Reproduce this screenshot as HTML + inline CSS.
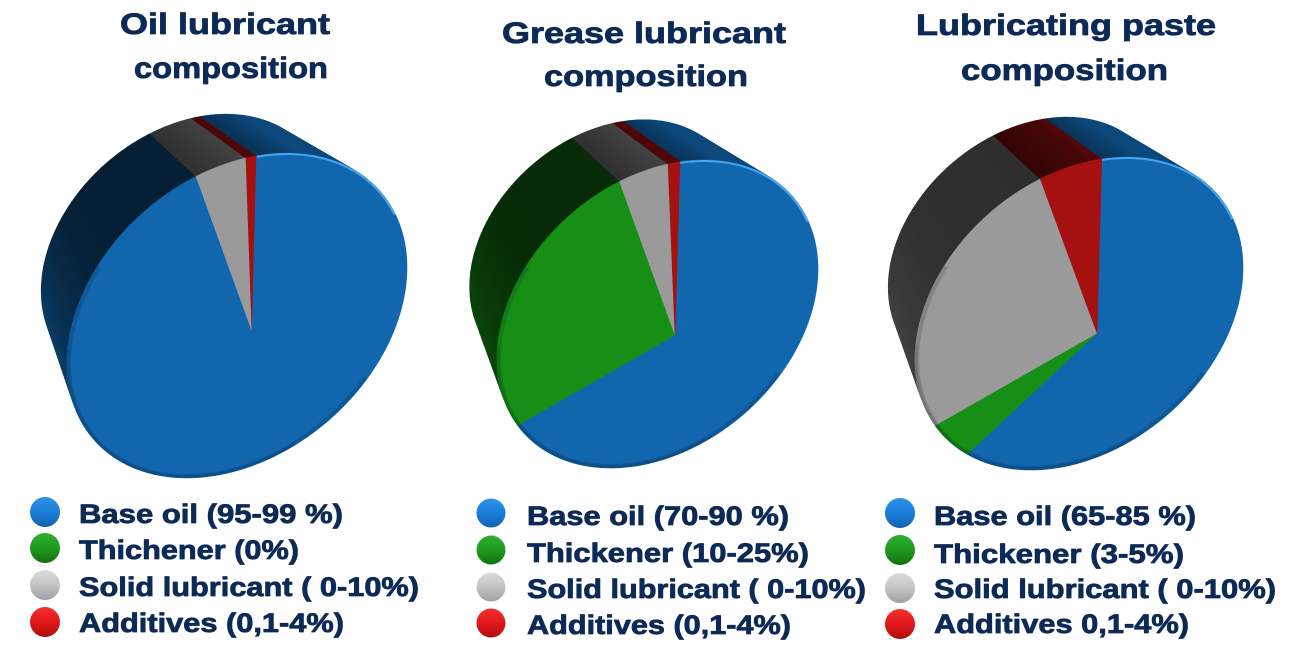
<!DOCTYPE html>
<html>
<head>
<meta charset="utf-8">
<style>
html,body{margin:0;padding:0;background:#ffffff;width:1305px;height:658px;overflow:hidden}
svg{display:block}
text{font-family:"Liberation Sans",Arial,sans-serif;font-weight:bold;fill:#0d2a56;stroke:#0d2a56;stroke-width:0.8px;stroke-linejoin:round}
</style>
</head>
<body>
<svg id="s" width="1305" height="658" viewBox="0 0 1305 658" xmlns="http://www.w3.org/2000/svg">
<defs id="defs">
  <linearGradient id="gb" x1="0" y1="0" x2="0" y2="1">
    <stop offset="0" stop-color="#2d92ea"/><stop offset="0.5" stop-color="#1b7fd9"/><stop offset="1" stop-color="#1361b0"/>
  </linearGradient>
  <linearGradient id="gg" x1="0" y1="0" x2="0" y2="1">
    <stop offset="0" stop-color="#2fb02f"/><stop offset="0.5" stop-color="#1f9a1f"/><stop offset="1" stop-color="#127012"/>
  </linearGradient>
  <linearGradient id="gs" x1="0" y1="0" x2="0" y2="1">
    <stop offset="0" stop-color="#dcdcdc"/><stop offset="0.5" stop-color="#c4c4c4"/><stop offset="1" stop-color="#a0a0a0"/>
  </linearGradient>
  <linearGradient id="gr" x1="0" y1="0" x2="0" y2="1">
    <stop offset="0" stop-color="#f53030"/><stop offset="0.5" stop-color="#e01818"/><stop offset="1" stop-color="#b00e0e"/>
  </linearGradient>
</defs>

<g id="pies"></g>

<!-- Titles -->
<text x="120" y="34" font-size="30" textLength="210" lengthAdjust="spacingAndGlyphs">Oil lubricant</text>
<text x="134" y="78" font-size="30" textLength="194" lengthAdjust="spacingAndGlyphs">composition</text>

<text x="502" y="43" font-size="30" textLength="284" lengthAdjust="spacingAndGlyphs">Grease lubricant</text>
<text x="544" y="86" font-size="30" textLength="204" lengthAdjust="spacingAndGlyphs">composition</text>

<text x="916" y="35" font-size="30" textLength="300" lengthAdjust="spacingAndGlyphs">Lubricating paste</text>
<text x="961" y="80" font-size="30" textLength="207" lengthAdjust="spacingAndGlyphs">composition</text>

<!-- Legend 1 -->
<circle cx="45" cy="512" r="15" fill="url(#gb)"/>
<circle cx="45" cy="548" r="15" fill="url(#gg)"/>
<circle cx="45" cy="585" r="15" fill="url(#gs)"/>
<circle cx="45" cy="622" r="15" fill="url(#gr)"/>
<text x="79" y="523" font-size="27" textLength="264" lengthAdjust="spacingAndGlyphs">Base oil (95-99 %)</text>
<text x="79" y="559" font-size="27" textLength="220" lengthAdjust="spacingAndGlyphs">Thichener (0%)</text>
<text x="79" y="596" font-size="27" textLength="340" lengthAdjust="spacingAndGlyphs">Solid lubricant ( 0-10%)</text>
<text x="79" y="632" font-size="27" textLength="265" lengthAdjust="spacingAndGlyphs">Additives (0,1-4%)</text>

<!-- Legend 2 -->
<circle cx="491" cy="513" r="14.5" fill="url(#gb)"/>
<circle cx="491" cy="550" r="14.5" fill="url(#gg)"/>
<circle cx="491" cy="587" r="14.5" fill="url(#gs)"/>
<circle cx="491" cy="623" r="14.5" fill="url(#gr)"/>
<text x="527" y="525" font-size="27" textLength="262" lengthAdjust="spacingAndGlyphs">Base oil (70-90 %)</text>
<text x="527" y="562" font-size="27" textLength="282" lengthAdjust="spacingAndGlyphs">Thickener (10-25%)</text>
<text x="527" y="598" font-size="27" textLength="339" lengthAdjust="spacingAndGlyphs">Solid lubricant ( 0-10%)</text>
<text x="527" y="634" font-size="27" textLength="264" lengthAdjust="spacingAndGlyphs">Additives (0,1-4%)</text>

<!-- Legend 3 -->
<circle cx="900" cy="513" r="15" fill="url(#gb)"/>
<circle cx="900" cy="550" r="15" fill="url(#gg)"/>
<circle cx="900" cy="588" r="15" fill="url(#gs)"/>
<circle cx="900" cy="624" r="15" fill="url(#gr)"/>
<text x="934" y="525" font-size="27" textLength="262" lengthAdjust="spacingAndGlyphs">Base oil (65-85 %)</text>
<text x="934" y="563" font-size="27" textLength="250" lengthAdjust="spacingAndGlyphs">Thickener (3-5%)</text>
<text x="934" y="598" font-size="27" textLength="342" lengthAdjust="spacingAndGlyphs">Solid lubricant ( 0-10%)</text>
<text x="934" y="633" font-size="27" textLength="255" lengthAdjust="spacingAndGlyphs">Additives 0,1-4%)</text>
</svg>

<script>
(function(){
var NS='http://www.w3.org/2000/svg';
var root=document.getElementById('pies');
var defs=document.getElementById('defs');

var COL={blue:[18,102,174],green:[23,143,23],gray:[154,154,154],red:[165,16,16]};
var LOW={blue:0.6,green:0.5,gray:0.42,red:0.45};
var D=Math.PI/180;
function el(n,attrs,parent){var e=document.createElementNS(NS,n);for(var k in attrs)e.setAttribute(k,attrs[k]);(parent||root).appendChild(e);return e;}
function rgb(c,f){return 'rgb('+c.map(function(v){return Math.max(0,Math.min(255,Math.round(v*f)));}).join(',')+')';}
function pts(a){return a.map(function(q){return q[0].toFixed(2)+','+q[1].toFixed(2);}).join(' ');}

function f(t,c){
  var lo=LOW[c];
  var FP=[[0,0.75],[120,lo],[170,lo],[215,0.31],[255,0.3],[272,0.42],[292,0.7],[360,0.75]];
  var d=((t/D)%360+360)%360;
  for(var i=0;i<FP.length-1;i++){
    if(d>=FP[i][0]&&d<=FP[i+1][0]){
      var u=(d-FP[i][0])/(FP[i+1][0]-FP[i][0]);
      return FP[i][1]+(FP[i+1][1]-FP[i][1])*u;
    }
  }
  return 0.5;
}

var pies=[
 {cx:237,cy:315.5,a:170,b1:-48,b2:155.2,ax:252,ay:333,
  slices:[{c:'gray',p0:[195,175],p1:[246,157]},{c:'red',p0:[246,157],p1:[257,153]},{c:'blue',p0:[257,153],p1:[195,175]}]},
 {cx:657.5,cy:314,a:160.5,b1:-45,b2:147.3,ax:675,ay:335,
  slices:[{c:'blue',p0:[680,162],p1:[518,425]},{c:'green',p0:[518,425],p1:[620,183]},{c:'gray',p0:[620,183],p1:[668,165]},{c:'red',p0:[668,165],p1:[680,162]}]},
 {cx:1079,cy:313.5,a:164,b1:-46,b2:149.6,ax:1097,ay:333,
  slices:[{c:'blue',p0:[1102,157],p1:[968,453]},{c:'green',p0:[968,453],p1:[933,427]},{c:'gray',p0:[933,427],p1:[1040,178]},{c:'red',p0:[1040,178],p1:[1102,157]}]}
];

pies.forEach(function(p,idx){
  function E(t){return [p.cx+p.a*Math.cos(t), p.cy+p.b1*Math.cos(t)+p.b2*Math.sin(t)];}
  var vpx=p.cx-331, vpy=p.cy-405, k=0.84;
  function B(t){var e=E(t);return [vpx+k*(e[0]-vpx), vpy+k*(e[1]-vpy)];}
  function T(pt){var c=(pt[0]-p.cx)/p.a; var s=(pt[1]-p.cy-p.b1*c)/p.b2; return Math.atan2(s,c);}
  function vis(t){var e=E(t);var nx=-p.b1*Math.sin(t)+p.b2*Math.cos(t), ny=p.a*Math.sin(t);return nx*(vpx-e[0])+ny*(vpy-e[1])>0;}
  var g=el('g',{});
  // walls
  p.slices.forEach(function(sl){
    var t0=T(sl.p0), t1=T(sl.p1); while(t1<=t0) t1+=2*Math.PI;
    var n=Math.max(1,Math.ceil((t1-t0)/(1*D)));
    for(var i=0;i<n;i++){
      var a0=t0+(t1-t0)*i/n, a1=t0+(t1-t0)*(i+1)/n, am=(a0+a1)/2;
      if(!vis(am)) continue;
      var col=rgb(COL[sl.c],f(am,sl.c));
      el('polygon',{points:pts([E(a0),E(a1),B(a1),B(a0)]),fill:col,stroke:col,'stroke-width':0.7},g);
    }
  });
  // clip for front face
  var full=[];for(var i=0;i<=360;i++)full.push(E(i*D));
  var cp=el('clipPath',{id:'cf'+idx},defs);
  el('polygon',{points:pts(full)},cp);
  // front slices
  p.slices.forEach(function(sl){
    var t0=T(sl.p0), t1=T(sl.p1); while(t1<=t0) t1+=2*Math.PI;
    var n=Math.max(1,Math.ceil((t1-t0)/(1*D)));
    var arr=[[p.ax,p.ay]];
    for(var i=0;i<=n;i++)arr.push(E(t0+(t1-t0)*i/n));
    var col=rgb(COL[sl.c],1);
    el('polygon',{points:pts(arr),fill:col,stroke:col,'stroke-width':0.6},g);
  });
  // bevel: smooth dark band along lower/left edge
  var cg=el('g',{'clip-path':'url(#cf'+idx+')'},g);
  var b1=[];for(var t=40;t<=215;t+=1)b1.push(E(t*D));
  el('polyline',{points:pts(b1),fill:'none',stroke:'rgba(0,20,30,0.16)','stroke-width':8,'stroke-linecap':'butt','stroke-linejoin':'round'},cg);
  var b2=[];for(var t=70;t<=185;t+=1)b2.push(E(t*D));
  el('polyline',{points:pts(b2),fill:'none',stroke:'rgba(0,20,30,0.14)','stroke-width':5,'stroke-linecap':'butt','stroke-linejoin':'round'},cg);
  var startT=T(idx===0?[257,153]:p.slices[0].p0)/D; if(startT<0)startT+=360;
  var hi=[];for(var t=startT;t<=startT+62;t+=1)hi.push(E(t*D));
  el('polyline',{points:pts(hi),fill:'none',stroke:'rgba(80,175,250,0.85)','stroke-width':4},cg);
});
})();
</script>
</body>
</html>
